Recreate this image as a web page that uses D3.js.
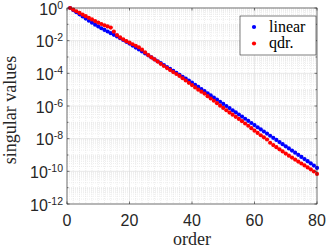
<!DOCTYPE html>
<html>
<head>
<meta charset="utf-8">
<script src="https://cdn.jsdelivr.net/npm/d3@7"></script>
<style>
  body { margin: 0; background: #fff; }
  svg { display: block; }
</style>
</head>
<body>
<script>
// log10 of singular values, order 1..80
var order = d3.range(1, 81);
var linearLog = [
  0.00, -0.13, -0.26, -0.39, -0.52, -0.65, -0.78, -0.90, -1.02, -1.13,
  -1.24, -1.34, -1.44, -1.54, -1.64, -1.74, -1.85, -1.96, -2.07, -2.18,
  -2.30, -2.42, -2.54, -2.66, -2.78, -2.90, -3.02, -3.14, -3.26, -3.38,
  -3.50, -3.62, -3.73, -3.85, -3.97, -4.09, -4.21, -4.33, -4.45, -4.57,
  -4.70, -4.83, -4.96, -5.09, -5.22, -5.35, -5.48, -5.61, -5.74, -5.87,
  -6.00, -6.13, -6.26, -6.39, -6.52, -6.65, -6.78, -6.91, -7.04, -7.17,
  -7.30, -7.43, -7.56, -7.69, -7.82, -7.95, -8.08, -8.21, -8.34, -8.47,
  -8.60, -8.73, -8.86, -8.99, -9.12, -9.25, -9.38, -9.51, -9.65, -9.79
];
var qdrLog = [
  0.00, -0.10, -0.20, -0.30, -0.40, -0.50, -0.60, -0.70, -0.80, -0.89,
  -0.98, -1.06, -1.13, -1.20, -1.45, -1.66, -1.80, -1.92, -2.03, -2.12,
  -2.22, -2.31, -2.41, -2.55, -2.72, -2.88, -3.02, -3.15, -3.28, -3.42,
  -3.55, -3.68, -3.80, -3.92, -4.04, -4.16, -4.30, -4.44, -4.58, -4.72,
  -4.86, -5.00, -5.12, -5.24, -5.40, -5.54, -5.68, -5.83, -5.98, -6.12,
  -6.26, -6.40, -6.53, -6.66, -6.79, -6.93, -7.07, -7.21, -7.36, -7.51,
  -7.65, -7.79, -7.92, -8.05, -8.25, -8.39, -8.52, -8.65, -8.78, -8.91,
  -9.04, -9.16, -9.28, -9.40, -9.52, -9.64, -9.76, -9.88, -10.01, -10.16
];
var xTicks = [0, 20, 40, 60, 80];
var yExponents = [0, -2, -4, -6, -8, -10, -12];
var seriesNames = ["linear", "qdr."];
var seriesColors = ["#0000ff", "#ff0000"];

var width = 327, height = 248;
var margin = {top: 8, right: 10, bottom: 44, left: 67};

var svg = d3.select("body").append("svg")
    .attr("width", width)
    .attr("height", height);

var x = d3.scaleLinear().domain([0, 80]).range([margin.left, width - margin.right]);
var y = d3.scaleLog().domain([1e-12, 1]).range([height - margin.bottom, margin.top]);

var x0 = x.range()[0], x1 = x.range()[1], y0 = y.range()[0], y1 = y.range()[1];

//minor grid
var minorX = d3.range(0, 81, 2).filter(function(d){ return d % 20 != 0; });
var minorY = [];
for (var e = -12; e < 0; e++) {
  for (var m = 1; m < 10; m++) {
    if (m == 1 && e % 2 == 0) continue;
    minorY.push(m * Math.pow(10, e));
  }
}
svg.append("g").selectAll("line").data(minorX).enter().append("line")
    .attr("x1", function(d){ return x(d); }).attr("x2", function(d){ return x(d); })
    .attr("y1", y1).attr("y2", y0)
    .attr("stroke", "#e3e3e3").attr("stroke-width", 0.6)
    .attr("stroke-dasharray", "1,1");
svg.append("g").selectAll("line").data(minorY).enter().append("line")
    .attr("x1", x0).attr("x2", x1)
    .attr("y1", function(d){ return y(d); }).attr("y2", function(d){ return y(d); })
    .attr("stroke", "#e3e3e3").attr("stroke-width", 0.6)
    .attr("stroke-dasharray", "1,1");

//major grid
svg.append("g").selectAll("line").data(xTicks).enter().append("line")
    .attr("x1", function(d){ return x(d); }).attr("x2", function(d){ return x(d); })
    .attr("y1", y1).attr("y2", y0)
    .attr("stroke", "#dcdcdc").attr("stroke-width", 0.6);
svg.append("g").selectAll("line").data(yExponents).enter().append("line")
    .attr("x1", x0).attr("x2", x1)
    .attr("y1", function(d){ return y(Math.pow(10, d)); })
    .attr("y2", function(d){ return y(Math.pow(10, d)); })
    .attr("stroke", "#dcdcdc").attr("stroke-width", 0.6);

//data points
var series = [linearLog, qdrLog];
series.forEach(function(vals, i){
  svg.append("g").selectAll("circle").data(vals).enter().append("circle")
      .attr("cx", function(d, j){ return x(order[j]); })
      .attr("cy", function(d){ return y(Math.pow(10, d)); })
      .attr("r", 2.1)
      .attr("fill", seriesColors[i]);
});

//box + inward ticks
svg.append("rect")
    .attr("x", x0).attr("y", y1)
    .attr("width", x1 - x0).attr("height", y0 - y1)
    .attr("fill", "none").attr("stroke", "#262626").attr("stroke-width", 0.6);

var tickG = svg.append("g").attr("stroke", "#262626").attr("stroke-width", 0.6);
xTicks.forEach(function(d){
  tickG.append("line").attr("x1", x(d)).attr("x2", x(d)).attr("y1", y0).attr("y2", y0 - 2.5);
  tickG.append("line").attr("x1", x(d)).attr("x2", x(d)).attr("y1", y1).attr("y2", y1 + 2.5);
});
d3.range(-12, 1).forEach(function(d){
  var yy = y(Math.pow(10, d));
  var len = (d % 2 == 0) ? 2.5 : 1.5;
  tickG.append("line").attr("x1", x0).attr("x2", x0 + len).attr("y1", yy).attr("y2", yy);
  tickG.append("line").attr("x1", x1).attr("x2", x1 - len).attr("y1", yy).attr("y2", yy);
});

//tick labels
var tickFont = "'Liberation Sans', Arial, sans-serif";
svg.append("g").selectAll("text").data(xTicks).enter().append("text")
    .attr("x", function(d){ return x(d); })
    .attr("y", y0 + 22)
    .attr("text-anchor", "middle")
    .attr("font-family", tickFont).attr("font-size", 16)
    .attr("fill", "#262626")
    .text(function(d){ return d; });

var yl = svg.append("g").selectAll("text").data(yExponents).enter().append("text")
    .attr("x", x0 - 4)
    .attr("y", function(d){ return y(Math.pow(10, d)) + 6.5; })
    .attr("text-anchor", "end")
    .attr("font-family", tickFont).attr("fill", "#262626");
yl.append("tspan").attr("font-size", 16).text("10");
yl.append("tspan").attr("font-size", 10.5).attr("dy", -6)
    .text(function(d){ return d == 0 ? "0" : "-" + Math.abs(d); });

//axis labels
var serif = "'Liberation Serif', 'Times New Roman', serif";
svg.append("text")
    .attr("x", (x0 + x1) / 2).attr("y", 245)
    .attr("text-anchor", "middle")
    .attr("font-family", serif).attr("font-size", 18)
    .attr("fill", "#262626")
    .text("order");
svg.append("text")
    .attr("transform", "translate(16," + 110 + ") rotate(-90)")
    .attr("text-anchor", "middle")
    .attr("font-family", serif).attr("font-size", 18)
    .attr("fill", "#262626")
    .text("singular values");

//legend
var legend = svg.append("g").attr("transform", "translate(240,16)");
legend.append("rect")
    .attr("width", 76).attr("height", 39)
    .attr("fill", "#fff").attr("stroke", "#262626").attr("stroke-width", 0.6);
seriesNames.forEach(function(name, i){
  legend.append("circle").attr("cx", 14).attr("cy", 11 + i * 16.5)
      .attr("r", 2.1).attr("fill", seriesColors[i]);
  legend.append("text").attr("x", 29).attr("y", 15.5 + i * 16.5)
      .attr("font-family", serif).attr("font-size", 16)
      .attr("fill", "#000")
      .text(name);
});
</script>
</body>
</html>
